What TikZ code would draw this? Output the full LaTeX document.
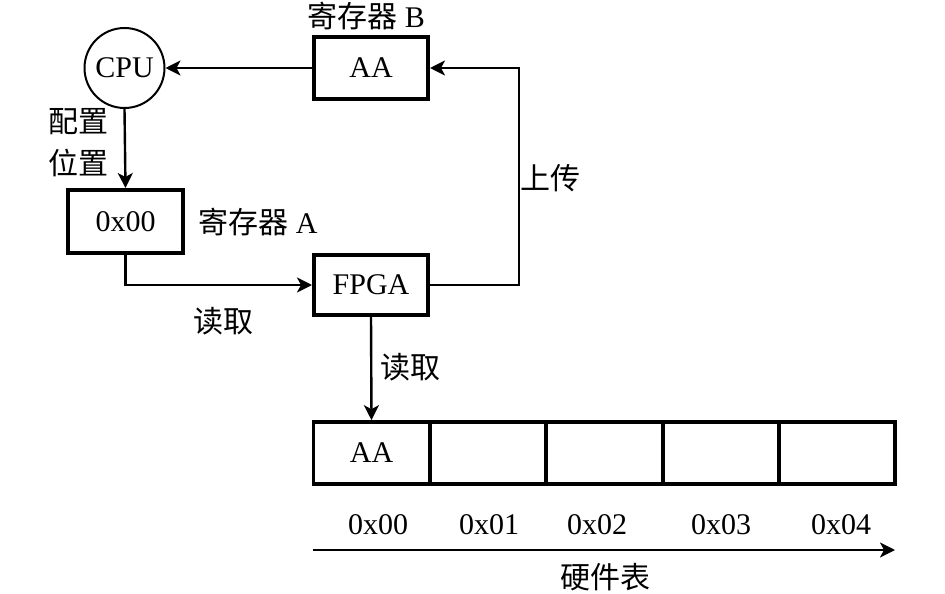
\documentclass[tikz,border=0pt]{standalone}
\usepackage{fontspec}
\setmainfont{Liberation Serif}
\newfontfamily\cjk{Noto Sans CJK SC}
\usetikzlibrary{arrows.meta,positioning}
\begin{document}
\begin{tikzpicture}[x=0.5pt,y=-0.5pt,
  font=\fontsize{15pt}{18pt}\selectfont,
  box/.style={draw,line width=2pt,minimum width=57pt,minimum height=31pt,inner sep=0pt},
  cell/.style={draw,line width=1.8pt,minimum width=58pt,minimum height=31pt,inner sep=0pt},
  conn/.style={line width=1.2pt,-{Stealth[length=7.5pt,width=7.5pt,inset=2pt]}},
  lbl/.style={inner sep=0pt}]
\useasboundingbox (0,0) rectangle (945,593);
\node[draw,circle,line width=1pt,minimum size=40pt,inner sep=0pt] (cpu) at (124.5,68) {CPU};
\node[box] (regB) at (371,68) {AA};
\node[box,minimum height=31.5pt,minimum width=57.5pt] (regA) at (125.5,221.5) {0x00};
\node[box,minimum height=30pt] (fpga) at (371,285) {FPGA};
\foreach \i/\t in {0/AA,1/,2/,3/,4/} {
  \node[cell] (c\i) at ({371.5+116.4*\i},453) {\t};
}
\node[lbl] (lB) at (366,16) {{\cjk 寄存器} B};
\node[lbl,align=center] (lcfg) at (78,143) {{\cjk 配置}\\[3pt]{\cjk 位置}};
\node[lbl] (lA) at (258,222) {{\cjk 寄存器} A};
\node[lbl] (lr1) at (223,321) {\cjk 读取};
\node[lbl] (lup) at (550,178) {\cjk 上传};
\node[lbl] (lr2) at (410,367) {\cjk 读取};
\node[lbl] (a0) at (378,525) {0x00};
\node[lbl] (a1) at (489,525) {0x01};
\node[lbl] (a2) at (597,525) {0x02};
\node[lbl] (a3) at (721,525) {0x03};
\node[lbl] (a4) at (841,525) {0x04};
\node[lbl] (lhw) at (605,577) {\cjk 硬件表};
\coordinate (turn) at (519,285);
\coordinate (axs) at (313,550);
\coordinate (axe) at (895,550);
\draw[conn] (regB.west) -- (cpu.east);
\draw[conn] (cpu.south) -- (regA.north);
\draw[conn] (regA.south) |- (fpga.west);
\draw[conn] (fpga.east) -- (turn) |- (regB.east);
\draw[conn] (fpga.south) -- (c0.north);
\draw[conn] (axs) -- (axe);
\end{tikzpicture}
\end{document}
